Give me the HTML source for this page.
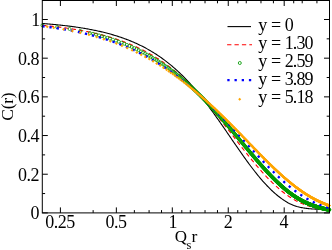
<!DOCTYPE html>
<html><head><meta charset="utf-8"><title>plot</title>
<style>
html,body{margin:0;padding:0;background:#fff;}
body{width:332px;height:250px;position:relative;overflow:hidden;font-family:"Liberation Serif",serif;color:#000;}
svg text{font-kerning:none;} /* fs 18 */
</style></head><body>
<svg width="332" height="250" viewBox="0 0 332 250" style="position:absolute;left:0;top:0">
<defs><clipPath id="c"><rect x="39.80" y="0.50" width="292.20" height="212.90"/></clipPath></defs>
<g fill="none">
<path d="M42.30 23.52 L43.26 23.59 L44.21 23.66 L45.17 23.74 L46.13 23.82 L47.09 23.89 L48.04 23.97 L49.00 24.05 L49.96 24.14 L50.92 24.22 L51.87 24.30 L52.83 24.39 L53.79 24.48 L54.75 24.57 L55.70 24.66 L56.66 24.76 L57.62 24.85 L58.57 24.95 L59.53 25.05 L60.49 25.15 L61.45 25.25 L62.40 25.36 L63.36 25.46 L64.32 25.57 L65.28 25.68 L66.23 25.80 L67.19 25.91 L68.15 26.03 L69.11 26.15 L70.06 26.27 L71.02 26.39 L71.98 26.52 L72.93 26.65 L73.89 26.78 L74.85 26.91 L75.81 27.05 L76.76 27.18 L77.72 27.33 L78.68 27.47 L79.64 27.62 L80.59 27.76 L81.55 27.92 L82.51 28.07 L83.47 28.23 L84.42 28.39 L85.38 28.55 L86.34 28.72 L87.29 28.89 L88.25 29.06 L89.21 29.24 L90.17 29.42 L91.12 29.60 L92.08 29.79 L93.04 29.98 L94.00 30.17 L94.95 30.37 L95.91 30.57 L96.87 30.77 L97.83 30.98 L98.78 31.19 L99.74 31.41 L100.70 31.63 L101.65 31.85 L102.61 32.08 L103.57 32.31 L104.53 32.55 L105.48 32.79 L106.44 33.03 L107.40 33.28 L108.36 33.54 L109.31 33.80 L110.27 34.06 L111.23 34.33 L112.19 34.61 L113.14 34.88 L114.10 35.17 L115.06 35.46 L116.01 35.75 L116.97 36.05 L117.93 36.36 L118.89 36.67 L119.84 36.99 L120.80 37.31 L121.76 37.64 L122.72 37.97 L123.67 38.31 L124.63 38.66 L125.59 39.02 L126.55 39.38 L127.50 39.74 L128.46 40.11 L129.42 40.49 L130.37 40.88 L131.33 41.27 L132.29 41.67 L133.25 42.08 L134.20 42.50 L135.16 42.92 L136.12 43.35 L137.08 43.79 L138.03 44.23 L138.99 44.69 L139.95 45.15 L140.91 45.62 L141.86 46.09 L142.82 46.58 L143.78 47.07 L144.73 47.58 L145.69 48.09 L146.65 48.61 L147.61 49.14 L148.56 49.68 L149.52 50.23 L150.48 50.78 L151.44 51.35 L152.39 51.93 L153.35 52.51 L154.31 53.11 L155.27 53.71 L156.22 54.33 L157.18 54.96 L158.14 55.59 L159.09 56.24 L160.05 56.90 L161.01 57.57 L161.97 58.25 L162.92 58.94 L163.88 59.64 L164.84 60.36 L165.80 61.08 L166.75 61.82 L167.71 62.57 L168.67 63.33 L169.63 64.10 L170.58 64.88 L171.54 65.68 L172.50 66.49 L173.45 67.31 L174.41 68.14 L175.37 68.98 L176.33 69.84 L177.28 70.71 L178.24 71.60 L179.20 72.49 L180.16 73.40 L181.11 74.32 L182.07 75.26 L183.03 76.21 L183.99 77.17 L184.94 78.15 L185.90 79.14 L186.86 80.14 L187.81 81.15 L188.77 82.18 L189.73 83.22 L190.69 84.28 L191.64 85.35 L192.60 86.43 L193.56 87.53 L194.52 88.64 L195.47 89.76 L196.43 90.90 L197.39 92.05 L198.35 93.21 L199.30 94.39 L200.26 95.58 L201.22 96.78 L202.17 97.99 L203.13 99.22 L204.09 100.45 L205.05 101.69 L206.00 102.95 L206.96 104.21 L207.92 105.48 L208.88 106.76 L209.83 108.05 L210.79 109.35 L211.75 110.66 L212.71 111.98 L213.66 113.30 L214.62 114.63 L215.58 115.97 L216.53 117.31 L217.49 118.67 L218.45 120.02 L219.41 121.39 L220.36 122.76 L221.32 124.13 L222.28 125.51 L223.24 126.89 L224.19 128.28 L225.15 129.66 L226.11 131.06 L227.07 132.45 L228.02 133.85 L228.98 135.24 L229.94 136.64 L230.89 138.04 L231.85 139.44 L232.81 140.84 L233.77 142.23 L234.72 143.63 L235.68 145.02 L236.64 146.41 L237.60 147.79 L238.55 149.17 L239.51 150.55 L240.47 151.92 L241.43 153.29 L242.38 154.65 L243.34 156.00 L244.30 157.35 L245.25 158.69 L246.21 160.02 L247.17 161.34 L248.13 162.65 L249.08 163.95 L250.04 165.24 L251.00 166.51 L251.96 167.78 L252.91 169.03 L253.87 170.27 L254.83 171.50 L255.79 172.71 L256.74 173.91 L257.70 175.10 L258.66 176.26 L259.61 177.41 L260.57 178.55 L261.53 179.67 L262.49 180.77 L263.44 181.85 L264.40 182.92 L265.36 183.96 L266.32 184.99 L267.27 186.00 L268.23 186.99 L269.19 187.96 L270.15 188.91 L271.10 189.84 L272.06 190.75 L273.02 191.63 L273.97 192.50 L274.93 193.35 L275.89 194.17 L276.85 194.97 L277.80 195.76 L278.76 196.52 L279.72 197.26 L280.68 197.98 L281.63 198.67 L282.59 199.35 L283.55 200.00 L284.51 200.64 L285.46 201.25 L286.42 201.84 L287.38 202.40 L288.33 202.93 L289.29 203.43 L290.25 203.90 L291.21 204.35 L292.16 204.76 L293.12 205.15 L294.08 205.52 L295.04 205.86 L295.99 206.17 L296.95 206.47 L297.91 206.74 L298.87 206.99 L299.82 207.22 L300.78 207.44 L301.74 207.63 L302.69 207.81 L303.65 207.98 L304.61 208.13 L305.57 208.26 L306.52 208.39 L307.48 208.50 L308.44 208.60 L309.40 208.69 L310.35 208.78 L311.31 208.86 L312.27 208.93 L313.23 209.00 L314.18 209.06 L315.14 209.12 L316.10 209.18 L317.05 209.24 L318.01 209.29 L318.97 209.35 L319.93 209.41 L320.88 209.48 L321.84 209.55 L322.80 209.62 L323.76 209.68 L324.71 209.74 L325.67 209.79 L326.63 209.84 L327.59 209.89 L328.54 209.93 L329.50 209.97" stroke="#000" stroke-width="1.1"/>
<path d="M42.30 25.30 L43.26 25.39 L44.21 25.48 L45.17 25.58 L46.13 25.67 L47.09 25.77 L48.04 25.86 L49.00 25.96 L49.96 26.06 L50.92 26.17 L51.87 26.27 L52.83 26.38 L53.79 26.48 L54.75 26.59 L55.70 26.71 L56.66 26.82 L57.62 26.93 L58.57 27.05 L59.53 27.17 L60.49 27.29 L61.45 27.41 L62.40 27.54 L63.36 27.66 L64.32 27.79 L65.28 27.92 L66.23 28.06 L67.19 28.19 L68.15 28.33 L69.11 28.47 L70.06 28.61 L71.02 28.76 L71.98 28.90 L72.93 29.05 L73.89 29.20 L74.85 29.36 L75.81 29.52 L76.76 29.68 L77.72 29.84 L78.68 30.00 L79.64 30.17 L80.59 30.34 L81.55 30.51 L82.51 30.69 L83.47 30.87 L84.42 31.05 L85.38 31.23 L86.34 31.42 L87.29 31.61 L88.25 31.80 L89.21 32.00 L90.17 32.20 L91.12 32.41 L92.08 32.61 L93.04 32.82 L94.00 33.04 L94.95 33.25 L95.91 33.47 L96.87 33.70 L97.83 33.93 L98.78 34.16 L99.74 34.39 L100.70 34.63 L101.65 34.88 L102.61 35.12 L103.57 35.38 L104.53 35.63 L105.48 35.89 L106.44 36.15 L107.40 36.42 L108.36 36.70 L109.31 36.97 L110.27 37.25 L111.23 37.54 L112.19 37.83 L113.14 38.13 L114.10 38.43 L115.06 38.73 L116.01 39.04 L116.97 39.36 L117.93 39.68 L118.89 40.00 L119.84 40.33 L120.80 40.67 L121.76 41.01 L122.72 41.36 L123.67 41.71 L124.63 42.07 L125.59 42.43 L126.55 42.80 L127.50 43.17 L128.46 43.55 L129.42 43.94 L130.37 44.34 L131.33 44.73 L132.29 45.14 L133.25 45.55 L134.20 45.97 L135.16 46.40 L136.12 46.83 L137.08 47.27 L138.03 47.71 L138.99 48.16 L139.95 48.62 L140.91 49.09 L141.86 49.56 L142.82 50.05 L143.78 50.53 L144.73 51.03 L145.69 51.53 L146.65 52.04 L147.61 52.56 L148.56 53.09 L149.52 53.63 L150.48 54.17 L151.44 54.72 L152.39 55.28 L153.35 55.85 L154.31 56.42 L155.27 57.01 L156.22 57.60 L157.18 58.20 L158.14 58.81 L159.09 59.43 L160.05 60.06 L161.01 60.70 L161.97 61.35 L162.92 62.00 L163.88 62.67 L164.84 63.34 L165.80 64.03 L166.75 64.72 L167.71 65.42 L168.67 66.14 L169.63 66.86 L170.58 67.59 L171.54 68.34 L172.50 69.09 L173.45 69.86 L174.41 70.63 L175.37 71.41 L176.33 72.21 L177.28 73.01 L178.24 73.83 L179.20 74.66 L180.16 75.49 L181.11 76.34 L182.07 77.20 L183.03 78.07 L183.99 78.95 L184.94 79.84 L185.90 80.74 L186.86 81.65 L187.81 82.58 L188.77 83.51 L189.73 84.46 L190.69 85.41 L191.64 86.38 L192.60 87.36 L193.56 88.35 L194.52 89.35 L195.47 90.36 L196.43 91.38 L197.39 92.42 L198.35 93.46 L199.30 94.51 L200.26 95.58 L201.22 96.66 L202.17 97.74 L203.13 98.83 L204.09 99.93 L205.05 101.04 L206.00 102.15 L206.96 103.28 L207.92 104.41 L208.88 105.55 L209.83 106.69 L210.79 107.84 L211.75 109.00 L212.71 110.17 L213.66 111.34 L214.62 112.51 L215.58 113.70 L216.53 114.89 L217.49 116.08 L218.45 117.28 L219.41 118.48 L220.36 119.69 L221.32 120.90 L222.28 122.12 L223.24 123.34 L224.19 124.56 L225.15 125.79 L226.11 127.02 L227.07 128.25 L228.02 129.49 L228.98 130.72 L229.94 131.96 L230.89 133.20 L231.85 134.44 L232.81 135.68 L233.77 136.92 L234.72 138.16 L235.68 139.40 L236.64 140.64 L237.60 141.88 L238.55 143.12 L239.51 144.35 L240.47 145.58 L241.43 146.81 L242.38 148.04 L243.34 149.26 L244.30 150.48 L245.25 151.69 L246.21 152.90 L247.17 154.10 L248.13 155.30 L249.08 156.50 L250.04 157.68 L251.00 158.86 L251.96 160.03 L252.91 161.20 L253.87 162.36 L254.83 163.51 L255.79 164.65 L256.74 165.78 L257.70 166.90 L258.66 168.01 L259.61 169.12 L260.57 170.21 L261.53 171.29 L262.49 172.36 L263.44 173.42 L264.40 174.46 L265.36 175.50 L266.32 176.52 L267.27 177.53 L268.23 178.53 L269.19 179.51 L270.15 180.48 L271.10 181.43 L272.06 182.37 L273.02 183.30 L273.97 184.21 L274.93 185.11 L275.89 185.99 L276.85 186.86 L277.80 187.71 L278.76 188.55 L279.72 189.37 L280.68 190.18 L281.63 190.96 L282.59 191.74 L283.55 192.49 L284.51 193.23 L285.46 193.96 L286.42 194.66 L287.38 195.35 L288.33 196.02 L289.29 196.67 L290.25 197.30 L291.21 197.91 L292.16 198.50 L293.12 199.08 L294.08 199.63 L295.04 200.17 L295.99 200.69 L296.95 201.19 L297.91 201.68 L298.87 202.15 L299.82 202.60 L300.78 203.04 L301.74 203.46 L302.69 203.86 L303.65 204.25 L304.61 204.63 L305.57 204.99 L306.52 205.33 L307.48 205.67 L308.44 205.99 L309.40 206.29 L310.35 206.59 L311.31 206.87 L312.27 207.14 L313.23 207.40 L314.18 207.65 L315.14 207.89 L316.10 208.13 L317.05 208.35 L318.01 208.56 L318.97 208.77 L319.93 208.97 L320.88 209.16 L321.84 209.34 L322.80 209.52 L323.76 209.69 L324.71 209.85 L325.67 210.00 L326.63 210.14 L327.59 210.28 L328.54 210.40 L329.50 210.52" stroke="#f00" stroke-width="1.1" stroke-dasharray="4.3 3.1"/>
<g stroke="#090" stroke-width="0.75" fill="none">
<circle cx="42.39" cy="25.31" r="1.5"/>
<circle cx="57.10" cy="27.09" r="1.5"/>
<circle cx="69.55" cy="28.98" r="1.5"/>
<circle cx="80.33" cy="30.97" r="1.5"/>
<circle cx="89.83" cy="33.05" r="1.5"/>
<circle cx="93.02" cy="33.82" r="1.5"/>
<circle cx="96.09" cy="34.60" r="1.5"/>
<circle cx="99.04" cy="35.38" r="1.5"/>
<circle cx="101.89" cy="36.18" r="1.5"/>
<circle cx="104.64" cy="36.98" r="1.5"/>
<circle cx="107.31" cy="37.79" r="1.5"/>
<circle cx="109.88" cy="38.61" r="1.5"/>
<circle cx="112.97" cy="39.63" r="1.5"/>
<circle cx="115.95" cy="40.67" r="1.5"/>
<circle cx="118.81" cy="41.71" r="1.5"/>
<circle cx="121.58" cy="42.75" r="1.5"/>
<circle cx="124.26" cy="43.81" r="1.5"/>
<circle cx="126.86" cy="44.87" r="1.5"/>
<circle cx="129.37" cy="45.94" r="1.5"/>
<circle cx="131.80" cy="47.01" r="1.5"/>
<circle cx="134.17" cy="48.09" r="1.5"/>
<circle cx="136.47" cy="49.17" r="1.5"/>
<circle cx="138.70" cy="50.26" r="1.5"/>
<circle cx="140.87" cy="51.35" r="1.5"/>
<circle cx="142.99" cy="52.44" r="1.5"/>
<circle cx="145.05" cy="53.54" r="1.5"/>
<circle cx="147.06" cy="54.63" r="1.5"/>
<circle cx="149.02" cy="55.74" r="1.5"/>
<circle cx="150.94" cy="56.84" r="1.5"/>
<circle cx="152.81" cy="57.94" r="1.5"/>
<circle cx="154.64" cy="59.05" r="1.5"/>
<circle cx="156.43" cy="60.15" r="1.5"/>
<circle cx="158.18" cy="61.26" r="1.5"/>
<circle cx="159.89" cy="62.37" r="1.5"/>
<circle cx="161.57" cy="63.47" r="1.5"/>
<circle cx="163.21" cy="64.58" r="1.5"/>
<circle cx="164.82" cy="65.68" r="1.5"/>
<circle cx="166.40" cy="66.79" r="1.5"/>
<circle cx="167.95" cy="67.89" r="1.5"/>
<circle cx="169.47" cy="69.00" r="1.5"/>
<circle cx="170.96" cy="70.10" r="1.5"/>
<circle cx="172.42" cy="71.20" r="1.5"/>
<circle cx="173.49" cy="72.01" r="1.5"/>
<circle cx="174.54" cy="72.82" r="1.5"/>
<circle cx="175.57" cy="73.63" r="1.5"/>
<circle cx="176.60" cy="74.44" r="1.5"/>
<circle cx="177.61" cy="75.24" r="1.5"/>
<circle cx="178.61" cy="76.05" r="1.5"/>
<circle cx="179.60" cy="76.85" r="1.5"/>
<circle cx="180.57" cy="77.66" r="1.5"/>
<circle cx="181.53" cy="78.46" r="1.5"/>
<circle cx="182.49" cy="79.26" r="1.5"/>
<circle cx="183.43" cy="80.05" r="1.5"/>
<circle cx="184.36" cy="80.85" r="1.5"/>
<circle cx="185.28" cy="81.64" r="1.5"/>
<circle cx="186.19" cy="82.44" r="1.5"/>
<circle cx="187.08" cy="83.23" r="1.5"/>
<circle cx="187.97" cy="84.01" r="1.5"/>
<circle cx="188.85" cy="84.80" r="1.5"/>
<circle cx="189.72" cy="85.58" r="1.5"/>
<circle cx="190.58" cy="86.37" r="1.5"/>
<circle cx="191.43" cy="87.15" r="1.5"/>
<circle cx="192.28" cy="87.92" r="1.5"/>
<circle cx="193.11" cy="88.70" r="1.5"/>
<circle cx="193.94" cy="89.47" r="1.5"/>
<circle cx="194.75" cy="90.24" r="1.5"/>
<circle cx="195.56" cy="91.01" r="1.5"/>
<circle cx="196.36" cy="91.78" r="1.5"/>
<circle cx="197.16" cy="92.54" r="1.5"/>
<circle cx="197.94" cy="93.30" r="1.5"/>
<circle cx="198.72" cy="94.06" r="1.5"/>
<circle cx="199.49" cy="94.82" r="1.5"/>
<circle cx="200.25" cy="95.57" r="1.5"/>
<circle cx="201.01" cy="96.32" r="1.5"/>
<circle cx="201.76" cy="97.07" r="1.5"/>
<circle cx="202.50" cy="97.82" r="1.5"/>
<circle cx="203.23" cy="98.56" r="1.5"/>
<circle cx="203.96" cy="99.31" r="1.5"/>
<circle cx="204.68" cy="100.05" r="1.5"/>
<circle cx="205.40" cy="100.78" r="1.5"/>
<circle cx="206.11" cy="101.52" r="1.5"/>
<circle cx="206.81" cy="102.25" r="1.5"/>
<circle cx="207.51" cy="102.98" r="1.5"/>
<circle cx="208.20" cy="103.71" r="1.5"/>
<circle cx="208.88" cy="104.43" r="1.5"/>
<circle cx="209.56" cy="105.15" r="1.5"/>
<circle cx="210.24" cy="105.87" r="1.5"/>
<circle cx="210.91" cy="106.59" r="1.5"/>
<circle cx="211.57" cy="107.30" r="1.5"/>
<circle cx="212.23" cy="108.02" r="1.5"/>
<circle cx="212.88" cy="108.72" r="1.5"/>
<circle cx="213.53" cy="109.43" r="1.5"/>
<circle cx="214.17" cy="110.13" r="1.5"/>
<circle cx="214.80" cy="110.83" r="1.5"/>
<circle cx="215.43" cy="111.53" r="1.5"/>
<circle cx="216.06" cy="112.23" r="1.5"/>
<circle cx="216.68" cy="112.92" r="1.5"/>
<circle cx="217.30" cy="113.61" r="1.5"/>
<circle cx="217.91" cy="114.29" r="1.5"/>
<circle cx="218.52" cy="114.98" r="1.5"/>
<circle cx="219.12" cy="115.66" r="1.5"/>
<circle cx="219.72" cy="116.33" r="1.5"/>
<circle cx="220.32" cy="117.01" r="1.5"/>
<circle cx="220.91" cy="117.68" r="1.5"/>
<circle cx="221.49" cy="118.35" r="1.5"/>
<circle cx="222.07" cy="119.02" r="1.5"/>
<circle cx="222.65" cy="119.68" r="1.5"/>
<circle cx="223.23" cy="120.34" r="1.5"/>
<circle cx="223.79" cy="120.99" r="1.5"/>
<circle cx="224.36" cy="121.65" r="1.5"/>
<circle cx="224.92" cy="122.30" r="1.5"/>
<circle cx="225.48" cy="122.95" r="1.5"/>
<circle cx="226.03" cy="123.59" r="1.5"/>
<circle cx="226.58" cy="124.23" r="1.5"/>
<circle cx="227.13" cy="124.87" r="1.5"/>
<circle cx="227.67" cy="125.51" r="1.5"/>
<circle cx="228.21" cy="126.14" r="1.5"/>
<circle cx="228.74" cy="126.77" r="1.5"/>
<circle cx="229.28" cy="127.40" r="1.5"/>
<circle cx="229.80" cy="128.02" r="1.5"/>
<circle cx="230.33" cy="128.64" r="1.5"/>
<circle cx="230.85" cy="129.26" r="1.5"/>
<circle cx="231.37" cy="129.87" r="1.5"/>
<circle cx="231.88" cy="130.48" r="1.5"/>
<circle cx="232.40" cy="131.09" r="1.5"/>
<circle cx="232.90" cy="131.70" r="1.5"/>
<circle cx="233.41" cy="132.30" r="1.5"/>
<circle cx="233.91" cy="132.90" r="1.5"/>
<circle cx="234.41" cy="133.49" r="1.5"/>
<circle cx="234.91" cy="134.09" r="1.5"/>
<circle cx="235.40" cy="134.68" r="1.5"/>
<circle cx="235.89" cy="135.26" r="1.5"/>
<circle cx="236.38" cy="135.84" r="1.5"/>
<circle cx="236.86" cy="136.42" r="1.5"/>
<circle cx="237.34" cy="137.00" r="1.5"/>
<circle cx="237.82" cy="137.58" r="1.5"/>
<circle cx="238.29" cy="138.15" r="1.5"/>
<circle cx="238.77" cy="138.71" r="1.5"/>
<circle cx="239.24" cy="139.28" r="1.5"/>
<circle cx="239.70" cy="139.84" r="1.5"/>
<circle cx="240.17" cy="140.40" r="1.5"/>
<circle cx="240.63" cy="140.95" r="1.5"/>
<circle cx="241.09" cy="141.51" r="1.5"/>
<circle cx="241.55" cy="142.05" r="1.5"/>
<circle cx="242.00" cy="142.60" r="1.5"/>
<circle cx="242.45" cy="143.14" r="1.5"/>
<circle cx="242.90" cy="143.68" r="1.5"/>
<circle cx="243.35" cy="144.22" r="1.5"/>
<circle cx="243.79" cy="144.75" r="1.5"/>
<circle cx="244.23" cy="145.28" r="1.5"/>
<circle cx="244.67" cy="145.81" r="1.5"/>
<circle cx="245.11" cy="146.33" r="1.5"/>
<circle cx="245.54" cy="146.85" r="1.5"/>
<circle cx="245.97" cy="147.37" r="1.5"/>
<circle cx="246.40" cy="147.89" r="1.5"/>
<circle cx="246.83" cy="148.40" r="1.5"/>
<circle cx="247.26" cy="148.91" r="1.5"/>
<circle cx="247.68" cy="149.41" r="1.5"/>
<circle cx="248.10" cy="149.92" r="1.5"/>
<circle cx="248.52" cy="150.42" r="1.5"/>
<circle cx="248.94" cy="150.91" r="1.5"/>
<circle cx="249.35" cy="151.41" r="1.5"/>
<circle cx="249.76" cy="151.90" r="1.5"/>
<circle cx="250.17" cy="152.38" r="1.5"/>
<circle cx="250.58" cy="152.87" r="1.5"/>
<circle cx="250.99" cy="153.35" r="1.5"/>
<circle cx="251.39" cy="153.83" r="1.5"/>
<circle cx="251.79" cy="154.31" r="1.5"/>
<circle cx="252.19" cy="154.78" r="1.5"/>
<circle cx="252.59" cy="155.25" r="1.5"/>
<circle cx="252.99" cy="155.71" r="1.5"/>
<circle cx="253.38" cy="156.18" r="1.5"/>
<circle cx="253.77" cy="156.64" r="1.5"/>
<circle cx="254.16" cy="157.10" r="1.5"/>
<circle cx="254.55" cy="157.55" r="1.5"/>
<circle cx="254.94" cy="158.00" r="1.5"/>
<circle cx="255.32" cy="158.45" r="1.5"/>
<circle cx="255.71" cy="158.90" r="1.5"/>
<circle cx="256.09" cy="159.34" r="1.5"/>
<circle cx="256.47" cy="159.78" r="1.5"/>
<circle cx="256.84" cy="160.22" r="1.5"/>
<circle cx="257.22" cy="160.65" r="1.5"/>
<circle cx="257.59" cy="161.09" r="1.5"/>
<circle cx="257.97" cy="161.52" r="1.5"/>
<circle cx="258.34" cy="161.94" r="1.5"/>
<circle cx="258.71" cy="162.36" r="1.5"/>
<circle cx="259.07" cy="162.78" r="1.5"/>
<circle cx="259.44" cy="163.20" r="1.5"/>
<circle cx="259.80" cy="163.62" r="1.5"/>
<circle cx="260.16" cy="164.03" r="1.5"/>
<circle cx="260.53" cy="164.44" r="1.5"/>
<circle cx="260.88" cy="164.85" r="1.5"/>
<circle cx="261.24" cy="165.25" r="1.5"/>
<circle cx="261.60" cy="165.65" r="1.5"/>
<circle cx="261.95" cy="166.05" r="1.5"/>
<circle cx="262.30" cy="166.44" r="1.5"/>
<circle cx="262.66" cy="166.84" r="1.5"/>
<circle cx="263.01" cy="167.23" r="1.5"/>
<circle cx="263.35" cy="167.61" r="1.5"/>
<circle cx="263.70" cy="168.00" r="1.5"/>
<circle cx="264.05" cy="168.38" r="1.5"/>
<circle cx="264.39" cy="168.76" r="1.5"/>
<circle cx="264.73" cy="169.14" r="1.5"/>
<circle cx="265.07" cy="169.51" r="1.5"/>
<circle cx="265.41" cy="169.88" r="1.5"/>
<circle cx="265.75" cy="170.25" r="1.5"/>
<circle cx="266.09" cy="170.62" r="1.5"/>
<circle cx="266.42" cy="170.98" r="1.5"/>
<circle cx="266.76" cy="171.34" r="1.5"/>
<circle cx="267.09" cy="171.70" r="1.5"/>
<circle cx="267.42" cy="172.06" r="1.5"/>
<circle cx="267.75" cy="172.41" r="1.5"/>
<circle cx="268.08" cy="172.76" r="1.5"/>
<circle cx="268.40" cy="173.11" r="1.5"/>
<circle cx="268.73" cy="173.45" r="1.5"/>
<circle cx="269.06" cy="173.80" r="1.5"/>
<circle cx="269.38" cy="174.14" r="1.5"/>
<circle cx="269.70" cy="174.48" r="1.5"/>
<circle cx="270.02" cy="174.81" r="1.5"/>
<circle cx="270.34" cy="175.15" r="1.5"/>
<circle cx="270.66" cy="175.48" r="1.5"/>
<circle cx="270.97" cy="175.80" r="1.5"/>
<circle cx="271.29" cy="176.13" r="1.5"/>
<circle cx="271.60" cy="176.45" r="1.5"/>
<circle cx="271.92" cy="176.78" r="1.5"/>
<circle cx="272.23" cy="177.09" r="1.5"/>
<circle cx="272.54" cy="177.41" r="1.5"/>
<circle cx="272.85" cy="177.73" r="1.5"/>
<circle cx="273.16" cy="178.04" r="1.5"/>
<circle cx="273.47" cy="178.35" r="1.5"/>
<circle cx="273.77" cy="178.65" r="1.5"/>
<circle cx="274.08" cy="178.96" r="1.5"/>
<circle cx="274.38" cy="179.26" r="1.5"/>
<circle cx="274.68" cy="179.56" r="1.5"/>
<circle cx="274.98" cy="179.86" r="1.5"/>
<circle cx="275.28" cy="180.15" r="1.5"/>
<circle cx="275.58" cy="180.45" r="1.5"/>
<circle cx="275.88" cy="180.74" r="1.5"/>
<circle cx="276.18" cy="181.03" r="1.5"/>
<circle cx="276.47" cy="181.32" r="1.5"/>
<circle cx="276.77" cy="181.60" r="1.5"/>
<circle cx="277.06" cy="181.88" r="1.5"/>
<circle cx="277.36" cy="182.16" r="1.5"/>
<circle cx="277.65" cy="182.44" r="1.5"/>
<circle cx="277.94" cy="182.72" r="1.5"/>
<circle cx="278.23" cy="182.99" r="1.5"/>
<circle cx="278.52" cy="183.26" r="1.5"/>
<circle cx="278.80" cy="183.53" r="1.5"/>
<circle cx="279.09" cy="183.80" r="1.5"/>
<circle cx="279.37" cy="184.06" r="1.5"/>
<circle cx="279.66" cy="184.33" r="1.5"/>
<circle cx="279.94" cy="184.59" r="1.5"/>
<circle cx="280.23" cy="184.85" r="1.5"/>
<circle cx="280.51" cy="185.10" r="1.5"/>
<circle cx="280.79" cy="185.36" r="1.5"/>
<circle cx="281.07" cy="185.61" r="1.5"/>
<circle cx="281.35" cy="185.86" r="1.5"/>
<circle cx="281.62" cy="186.11" r="1.5"/>
<circle cx="281.90" cy="186.36" r="1.5"/>
<circle cx="282.18" cy="186.60" r="1.5"/>
<circle cx="282.45" cy="186.85" r="1.5"/>
<circle cx="282.72" cy="187.09" r="1.5"/>
<circle cx="283.00" cy="187.33" r="1.5"/>
<circle cx="283.27" cy="187.56" r="1.5"/>
<circle cx="283.54" cy="187.80" r="1.5"/>
<circle cx="283.81" cy="188.03" r="1.5"/>
<circle cx="284.08" cy="188.26" r="1.5"/>
<circle cx="284.35" cy="188.49" r="1.5"/>
<circle cx="284.61" cy="188.72" r="1.5"/>
<circle cx="284.88" cy="188.95" r="1.5"/>
<circle cx="285.15" cy="189.17" r="1.5"/>
<circle cx="285.41" cy="189.39" r="1.5"/>
<circle cx="285.68" cy="189.61" r="1.5"/>
<circle cx="285.94" cy="189.83" r="1.5"/>
<circle cx="286.20" cy="190.05" r="1.5"/>
<circle cx="286.46" cy="190.26" r="1.5"/>
<circle cx="286.72" cy="190.48" r="1.5"/>
<circle cx="286.98" cy="190.69" r="1.5"/>
<circle cx="287.24" cy="190.90" r="1.5"/>
<circle cx="287.50" cy="191.10" r="1.5"/>
<circle cx="287.76" cy="191.31" r="1.5"/>
<circle cx="288.01" cy="191.51" r="1.5"/>
<circle cx="288.27" cy="191.71" r="1.5"/>
<circle cx="288.52" cy="191.91" r="1.5"/>
<circle cx="288.78" cy="192.11" r="1.5"/>
<circle cx="289.03" cy="192.30" r="1.5"/>
<circle cx="289.28" cy="192.50" r="1.5"/>
<circle cx="289.53" cy="192.69" r="1.5"/>
<circle cx="289.79" cy="192.88" r="1.5"/>
<circle cx="290.04" cy="193.07" r="1.5"/>
<circle cx="290.29" cy="193.25" r="1.5"/>
<circle cx="290.53" cy="193.44" r="1.5"/>
<circle cx="290.78" cy="193.62" r="1.5"/>
<circle cx="291.03" cy="193.80" r="1.5"/>
<circle cx="291.27" cy="193.98" r="1.5"/>
<circle cx="291.52" cy="194.16" r="1.5"/>
<circle cx="291.76" cy="194.34" r="1.5"/>
<circle cx="292.01" cy="194.51" r="1.5"/>
<circle cx="292.25" cy="194.68" r="1.5"/>
<circle cx="292.49" cy="194.85" r="1.5"/>
<circle cx="292.74" cy="195.02" r="1.5"/>
<circle cx="292.98" cy="195.19" r="1.5"/>
<circle cx="293.22" cy="195.36" r="1.5"/>
<circle cx="293.46" cy="195.52" r="1.5"/>
<circle cx="293.70" cy="195.68" r="1.5"/>
<circle cx="293.93" cy="195.85" r="1.5"/>
<circle cx="294.17" cy="196.01" r="1.5"/>
<circle cx="294.41" cy="196.16" r="1.5"/>
<circle cx="294.65" cy="196.32" r="1.5"/>
<circle cx="294.88" cy="196.48" r="1.5"/>
<circle cx="295.12" cy="196.63" r="1.5"/>
<circle cx="295.35" cy="196.78" r="1.5"/>
<circle cx="295.58" cy="196.93" r="1.5"/>
<circle cx="295.82" cy="197.08" r="1.5"/>
<circle cx="296.05" cy="197.23" r="1.5"/>
<circle cx="296.28" cy="197.38" r="1.5"/>
<circle cx="296.51" cy="197.52" r="1.5"/>
<circle cx="296.74" cy="197.67" r="1.5"/>
<circle cx="296.97" cy="197.81" r="1.5"/>
<circle cx="297.20" cy="197.95" r="1.5"/>
<circle cx="297.43" cy="198.09" r="1.5"/>
<circle cx="297.65" cy="198.23" r="1.5"/>
<circle cx="297.88" cy="198.36" r="1.5"/>
<circle cx="298.11" cy="198.50" r="1.5"/>
<circle cx="298.33" cy="198.63" r="1.5"/>
<circle cx="298.56" cy="198.77" r="1.5"/>
<circle cx="298.78" cy="198.90" r="1.5"/>
<circle cx="299.01" cy="199.03" r="1.5"/>
<circle cx="299.23" cy="199.16" r="1.5"/>
<circle cx="299.45" cy="199.29" r="1.5"/>
<circle cx="299.67" cy="199.41" r="1.5"/>
<circle cx="299.89" cy="199.54" r="1.5"/>
<circle cx="300.12" cy="199.66" r="1.5"/>
<circle cx="300.34" cy="199.79" r="1.5"/>
<circle cx="300.55" cy="199.91" r="1.5"/>
<circle cx="300.77" cy="200.03" r="1.5"/>
<circle cx="300.99" cy="200.15" r="1.5"/>
<circle cx="301.21" cy="200.27" r="1.5"/>
<circle cx="301.43" cy="200.39" r="1.5"/>
<circle cx="301.64" cy="200.50" r="1.5"/>
<circle cx="301.86" cy="200.62" r="1.5"/>
<circle cx="302.07" cy="200.73" r="1.5"/>
<circle cx="302.29" cy="200.84" r="1.5"/>
<circle cx="302.50" cy="200.96" r="1.5"/>
<circle cx="302.72" cy="201.07" r="1.5"/>
<circle cx="302.93" cy="201.18" r="1.5"/>
<circle cx="303.14" cy="201.28" r="1.5"/>
<circle cx="303.35" cy="201.39" r="1.5"/>
<circle cx="303.57" cy="201.50" r="1.5"/>
<circle cx="303.78" cy="201.60" r="1.5"/>
<circle cx="303.99" cy="201.71" r="1.5"/>
<circle cx="304.20" cy="201.81" r="1.5"/>
<circle cx="304.41" cy="201.91" r="1.5"/>
<circle cx="304.62" cy="202.01" r="1.5"/>
<circle cx="304.82" cy="202.11" r="1.5"/>
<circle cx="305.03" cy="202.21" r="1.5"/>
<circle cx="305.24" cy="202.31" r="1.5"/>
<circle cx="305.44" cy="202.41" r="1.5"/>
<circle cx="305.65" cy="202.51" r="1.5"/>
<circle cx="305.86" cy="202.60" r="1.5"/>
<circle cx="306.06" cy="202.70" r="1.5"/>
<circle cx="306.27" cy="202.79" r="1.5"/>
<circle cx="306.47" cy="202.88" r="1.5"/>
<circle cx="306.67" cy="202.98" r="1.5"/>
<circle cx="306.88" cy="203.07" r="1.5"/>
<circle cx="307.08" cy="203.16" r="1.5"/>
<circle cx="307.28" cy="203.25" r="1.5"/>
<circle cx="307.48" cy="203.34" r="1.5"/>
<circle cx="307.68" cy="203.42" r="1.5"/>
<circle cx="307.88" cy="203.51" r="1.5"/>
<circle cx="308.08" cy="203.60" r="1.5"/>
<circle cx="308.28" cy="203.68" r="1.5"/>
<circle cx="308.48" cy="203.76" r="1.5"/>
<circle cx="308.68" cy="203.85" r="1.5"/>
<circle cx="308.88" cy="203.93" r="1.5"/>
<circle cx="309.07" cy="204.01" r="1.5"/>
<circle cx="309.27" cy="204.09" r="1.5"/>
<circle cx="309.47" cy="204.17" r="1.5"/>
<circle cx="309.66" cy="204.25" r="1.5"/>
<circle cx="309.86" cy="204.33" r="1.5"/>
<circle cx="310.05" cy="204.41" r="1.5"/>
<circle cx="310.25" cy="204.49" r="1.5"/>
<circle cx="310.44" cy="204.57" r="1.5"/>
<circle cx="310.64" cy="204.64" r="1.5"/>
<circle cx="310.83" cy="204.72" r="1.5"/>
<circle cx="311.02" cy="204.79" r="1.5"/>
<circle cx="311.22" cy="204.86" r="1.5"/>
<circle cx="311.41" cy="204.94" r="1.5"/>
<circle cx="311.60" cy="205.01" r="1.5"/>
<circle cx="311.79" cy="205.08" r="1.5"/>
<circle cx="311.98" cy="205.15" r="1.5"/>
<circle cx="312.17" cy="205.22" r="1.5"/>
<circle cx="312.36" cy="205.29" r="1.5"/>
<circle cx="312.55" cy="205.36" r="1.5"/>
<circle cx="312.74" cy="205.43" r="1.5"/>
<circle cx="312.93" cy="205.50" r="1.5"/>
<circle cx="313.11" cy="205.56" r="1.5"/>
<circle cx="313.30" cy="205.63" r="1.5"/>
<circle cx="313.49" cy="205.70" r="1.5"/>
<circle cx="313.67" cy="205.76" r="1.5"/>
<circle cx="313.86" cy="205.83" r="1.5"/>
<circle cx="314.05" cy="205.89" r="1.5"/>
<circle cx="314.23" cy="205.95" r="1.5"/>
<circle cx="314.42" cy="206.02" r="1.5"/>
<circle cx="314.60" cy="206.08" r="1.5"/>
<circle cx="314.78" cy="206.14" r="1.5"/>
<circle cx="314.97" cy="206.20" r="1.5"/>
<circle cx="315.15" cy="206.26" r="1.5"/>
<circle cx="315.33" cy="206.32" r="1.5"/>
<circle cx="315.52" cy="206.38" r="1.5"/>
<circle cx="315.70" cy="206.44" r="1.5"/>
<circle cx="315.88" cy="206.50" r="1.5"/>
<circle cx="316.06" cy="206.56" r="1.5"/>
<circle cx="316.24" cy="206.61" r="1.5"/>
<circle cx="316.42" cy="206.67" r="1.5"/>
<circle cx="316.60" cy="206.73" r="1.5"/>
<circle cx="316.78" cy="206.78" r="1.5"/>
<circle cx="316.96" cy="206.84" r="1.5"/>
<circle cx="317.14" cy="206.89" r="1.5"/>
<circle cx="317.32" cy="206.95" r="1.5"/>
<circle cx="317.49" cy="207.00" r="1.5"/>
<circle cx="317.67" cy="207.06" r="1.5"/>
<circle cx="317.85" cy="207.11" r="1.5"/>
<circle cx="318.03" cy="207.16" r="1.5"/>
<circle cx="318.20" cy="207.21" r="1.5"/>
<circle cx="318.38" cy="207.26" r="1.5"/>
<circle cx="318.55" cy="207.32" r="1.5"/>
<circle cx="318.73" cy="207.37" r="1.5"/>
<circle cx="318.90" cy="207.42" r="1.5"/>
<circle cx="319.08" cy="207.47" r="1.5"/>
<circle cx="319.25" cy="207.52" r="1.5"/>
<circle cx="319.43" cy="207.56" r="1.5"/>
<circle cx="319.60" cy="207.61" r="1.5"/>
<circle cx="319.77" cy="207.66" r="1.5"/>
<circle cx="319.94" cy="207.71" r="1.5"/>
<circle cx="320.12" cy="207.76" r="1.5"/>
<circle cx="320.29" cy="207.80" r="1.5"/>
<circle cx="320.46" cy="207.85" r="1.5"/>
<circle cx="320.63" cy="207.90" r="1.5"/>
<circle cx="320.80" cy="207.94" r="1.5"/>
<circle cx="320.97" cy="207.99" r="1.5"/>
<circle cx="321.14" cy="208.03" r="1.5"/>
<circle cx="321.31" cy="208.08" r="1.5"/>
<circle cx="321.48" cy="208.12" r="1.5"/>
<circle cx="321.65" cy="208.16" r="1.5"/>
<circle cx="321.82" cy="208.21" r="1.5"/>
<circle cx="321.99" cy="208.25" r="1.5"/>
<circle cx="322.15" cy="208.29" r="1.5"/>
<circle cx="322.32" cy="208.34" r="1.5"/>
<circle cx="322.49" cy="208.38" r="1.5"/>
<circle cx="322.66" cy="208.42" r="1.5"/>
<circle cx="322.82" cy="208.46" r="1.5"/>
<circle cx="322.99" cy="208.50" r="1.5"/>
<circle cx="323.15" cy="208.54" r="1.5"/>
<circle cx="323.32" cy="208.58" r="1.5"/>
<circle cx="323.49" cy="208.62" r="1.5"/>
<circle cx="323.65" cy="208.66" r="1.5"/>
<circle cx="323.81" cy="208.70" r="1.5"/>
<circle cx="323.98" cy="208.74" r="1.5"/>
<circle cx="324.14" cy="208.77" r="1.5"/>
<circle cx="324.31" cy="208.81" r="1.5"/>
<circle cx="324.47" cy="208.85" r="1.5"/>
<circle cx="324.63" cy="208.89" r="1.5"/>
<circle cx="324.79" cy="208.92" r="1.5"/>
<circle cx="324.96" cy="208.96" r="1.5"/>
<circle cx="325.12" cy="208.99" r="1.5"/>
<circle cx="325.28" cy="209.03" r="1.5"/>
<circle cx="325.44" cy="209.06" r="1.5"/>
<circle cx="325.60" cy="209.10" r="1.5"/>
<circle cx="325.76" cy="209.13" r="1.5"/>
<circle cx="325.92" cy="209.16" r="1.5"/>
<circle cx="326.08" cy="209.20" r="1.5"/>
<circle cx="326.24" cy="209.23" r="1.5"/>
<circle cx="326.40" cy="209.26" r="1.5"/>
<circle cx="326.56" cy="209.30" r="1.5"/>
<circle cx="326.72" cy="209.33" r="1.5"/>
<circle cx="326.88" cy="209.36" r="1.5"/>
<circle cx="327.04" cy="209.39" r="1.5"/>
<circle cx="327.19" cy="209.42" r="1.5"/>
<circle cx="327.35" cy="209.45" r="1.5"/>
<circle cx="327.51" cy="209.48" r="1.5"/>
<circle cx="327.66" cy="209.51" r="1.5"/>
<circle cx="327.82" cy="209.54" r="1.5"/>
<circle cx="327.98" cy="209.57" r="1.5"/>
<circle cx="328.13" cy="209.60" r="1.5"/>
<circle cx="328.29" cy="209.63" r="1.5"/>
<circle cx="328.44" cy="209.66" r="1.5"/>
<circle cx="328.60" cy="209.69" r="1.5"/>
<circle cx="328.75" cy="209.71" r="1.5"/>
<circle cx="328.91" cy="209.74" r="1.5"/>
<circle cx="329.06" cy="209.77" r="1.5"/>
<circle cx="329.22" cy="209.79" r="1.5"/>
<circle cx="329.37" cy="209.82" r="1.5"/>
</g>
<path d="M42.30 26.26 L43.26 26.38 L44.21 26.50 L45.17 26.62 L46.13 26.74 L47.09 26.86 L48.04 26.98 L49.00 27.11 L49.96 27.24 L50.92 27.37 L51.87 27.50 L52.83 27.64 L53.79 27.77 L54.75 27.91 L55.70 28.05 L56.66 28.20 L57.62 28.34 L58.57 28.49 L59.53 28.64 L60.49 28.79 L61.45 28.95 L62.40 29.10 L63.36 29.26 L64.32 29.42 L65.28 29.59 L66.23 29.75 L67.19 29.92 L68.15 30.10 L69.11 30.27 L70.06 30.45 L71.02 30.63 L71.98 30.81 L72.93 31.00 L73.89 31.18 L74.85 31.37 L75.81 31.57 L76.76 31.76 L77.72 31.96 L78.68 32.17 L79.64 32.37 L80.59 32.58 L81.55 32.79 L82.51 33.01 L83.47 33.22 L84.42 33.44 L85.38 33.67 L86.34 33.90 L87.29 34.13 L88.25 34.36 L89.21 34.60 L90.17 34.84 L91.12 35.08 L92.08 35.33 L93.04 35.58 L94.00 35.84 L94.95 36.09 L95.91 36.36 L96.87 36.62 L97.83 36.89 L98.78 37.16 L99.74 37.44 L100.70 37.72 L101.65 38.01 L102.61 38.30 L103.57 38.59 L104.53 38.89 L105.48 39.19 L106.44 39.49 L107.40 39.80 L108.36 40.12 L109.31 40.43 L110.27 40.76 L111.23 41.08 L112.19 41.41 L113.14 41.75 L114.10 42.09 L115.06 42.43 L116.01 42.78 L116.97 43.13 L117.93 43.49 L118.89 43.85 L119.84 44.22 L120.80 44.59 L121.76 44.97 L122.72 45.35 L123.67 45.74 L124.63 46.13 L125.59 46.53 L126.55 46.93 L127.50 47.34 L128.46 47.75 L129.42 48.17 L130.37 48.59 L131.33 49.02 L132.29 49.45 L133.25 49.89 L134.20 50.33 L135.16 50.78 L136.12 51.24 L137.08 51.70 L138.03 52.16 L138.99 52.64 L139.95 53.11 L140.91 53.60 L141.86 54.08 L142.82 54.58 L143.78 55.08 L144.73 55.58 L145.69 56.10 L146.65 56.61 L147.61 57.14 L148.56 57.67 L149.52 58.20 L150.48 58.74 L151.44 59.29 L152.39 59.84 L153.35 60.40 L154.31 60.97 L155.27 61.54 L156.22 62.12 L157.18 62.70 L158.14 63.29 L159.09 63.89 L160.05 64.49 L161.01 65.10 L161.97 65.72 L162.92 66.34 L163.88 66.97 L164.84 67.61 L165.80 68.25 L166.75 68.90 L167.71 69.55 L168.67 70.21 L169.63 70.88 L170.58 71.55 L171.54 72.23 L172.50 72.92 L173.45 73.61 L174.41 74.31 L175.37 75.02 L176.33 75.73 L177.28 76.45 L178.24 77.17 L179.20 77.90 L180.16 78.64 L181.11 79.39 L182.07 80.14 L183.03 80.89 L183.99 81.66 L184.94 82.43 L185.90 83.20 L186.86 83.99 L187.81 84.78 L188.77 85.57 L189.73 86.37 L190.69 87.18 L191.64 87.99 L192.60 88.81 L193.56 89.64 L194.52 90.47 L195.47 91.31 L196.43 92.15 L197.39 93.00 L198.35 93.86 L199.30 94.72 L200.26 95.58 L201.22 96.46 L202.17 97.34 L203.13 98.22 L204.09 99.11 L205.05 100.01 L206.00 100.91 L206.96 101.82 L207.92 102.74 L208.88 103.66 L209.83 104.59 L210.79 105.52 L211.75 106.46 L212.71 107.41 L213.66 108.36 L214.62 109.32 L215.58 110.28 L216.53 111.24 L217.49 112.22 L218.45 113.19 L219.41 114.17 L220.36 115.16 L221.32 116.15 L222.28 117.15 L223.24 118.15 L224.19 119.15 L225.15 120.16 L226.11 121.17 L227.07 122.19 L228.02 123.21 L228.98 124.23 L229.94 125.26 L230.89 126.29 L231.85 127.32 L232.81 128.36 L233.77 129.40 L234.72 130.44 L235.68 131.48 L236.64 132.53 L237.60 133.57 L238.55 134.62 L239.51 135.67 L240.47 136.72 L241.43 137.78 L242.38 138.83 L243.34 139.88 L244.30 140.94 L245.25 141.99 L246.21 143.05 L247.17 144.10 L248.13 145.16 L249.08 146.21 L250.04 147.26 L251.00 148.31 L251.96 149.36 L252.91 150.41 L253.87 151.46 L254.83 152.50 L255.79 153.54 L256.74 154.58 L257.70 155.61 L258.66 156.64 L259.61 157.67 L260.57 158.70 L261.53 159.72 L262.49 160.73 L263.44 161.74 L264.40 162.75 L265.36 163.75 L266.32 164.75 L267.27 165.74 L268.23 166.72 L269.19 167.70 L270.15 168.67 L271.10 169.63 L272.06 170.59 L273.02 171.54 L273.97 172.48 L274.93 173.41 L275.89 174.34 L276.85 175.26 L277.80 176.17 L278.76 177.07 L279.72 177.96 L280.68 178.84 L281.63 179.71 L282.59 180.57 L283.55 181.43 L284.51 182.27 L285.46 183.10 L286.42 183.92 L287.38 184.73 L288.33 185.53 L289.29 186.32 L290.25 187.09 L291.21 187.86 L292.16 188.61 L293.12 189.35 L294.08 190.08 L295.04 190.80 L295.99 191.50 L296.95 192.19 L297.91 192.87 L298.87 193.54 L299.82 194.20 L300.78 194.84 L301.74 195.47 L302.69 196.08 L303.65 196.68 L304.61 197.27 L305.57 197.85 L306.52 198.41 L307.48 198.96 L308.44 199.50 L309.40 200.02 L310.35 200.53 L311.31 201.03 L312.27 201.52 L313.23 201.99 L314.18 202.45 L315.14 202.89 L316.10 203.32 L317.05 203.74 L318.01 204.15 L318.97 204.55 L319.93 204.93 L320.88 205.30 L321.84 205.66 L322.80 206.01 L323.76 206.34 L324.71 206.66 L325.67 206.98 L326.63 207.28 L327.59 207.57 L328.54 207.85 L329.50 208.11" stroke="#00f" stroke-width="2.3" stroke-dasharray="2.3 4.9"/>
<g fill="#ffa500" stroke="none">
<path d="M47.24 25.28l1.5 1.5l-1.5 1.5l-1.5 -1.5z"/>
<path d="M53.67 26.20l1.5 1.5l-1.5 1.5l-1.5 -1.5z"/>
<path d="M63.57 27.82l1.5 1.5l-1.5 1.5l-1.5 -1.5z"/>
<path d="M72.38 29.49l1.5 1.5l-1.5 1.5l-1.5 -1.5z"/>
<path d="M80.33 31.21l1.5 1.5l-1.5 1.5l-1.5 -1.5z"/>
<path d="M88.93 33.32l1.5 1.5l-1.5 1.5l-1.5 -1.5z"/>
<path d="M96.71 35.48l1.5 1.5l-1.5 1.5l-1.5 -1.5z"/>
<path d="M103.80 37.66l1.5 1.5l-1.5 1.5l-1.5 -1.5z"/>
<path d="M110.32 39.86l1.5 1.5l-1.5 1.5l-1.5 -1.5z"/>
<path d="M116.35 42.08l1.5 1.5l-1.5 1.5l-1.5 -1.5z"/>
<path d="M121.96 44.31l1.5 1.5l-1.5 1.5l-1.5 -1.5z"/>
<path d="M127.21 46.54l1.5 1.5l-1.5 1.5l-1.5 -1.5z"/>
<path d="M132.14 48.77l1.5 1.5l-1.5 1.5l-1.5 -1.5z"/>
<path d="M136.78 50.99l1.5 1.5l-1.5 1.5l-1.5 -1.5z"/>
<path d="M141.17 53.21l1.5 1.5l-1.5 1.5l-1.5 -1.5z"/>
<path d="M145.33 55.41l1.5 1.5l-1.5 1.5l-1.5 -1.5z"/>
<path d="M149.29 57.60l1.5 1.5l-1.5 1.5l-1.5 -1.5z"/>
<path d="M153.07 59.78l1.5 1.5l-1.5 1.5l-1.5 -1.5z"/>
<path d="M156.67 61.94l1.5 1.5l-1.5 1.5l-1.5 -1.5z"/>
<path d="M160.13 64.08l1.5 1.5l-1.5 1.5l-1.5 -1.5z"/>
<path d="M163.44 66.20l1.5 1.5l-1.5 1.5l-1.5 -1.5z"/>
<path d="M166.62 68.30l1.5 1.5l-1.5 1.5l-1.5 -1.5z"/>
<path d="M168.75 69.75l1.5 1.5l-1.5 1.5l-1.5 -1.5z"/>
<path d="M170.83 71.18l1.5 1.5l-1.5 1.5l-1.5 -1.5z"/>
<path d="M172.86 72.60l1.5 1.5l-1.5 1.5l-1.5 -1.5z"/>
<path d="M174.84 74.02l1.5 1.5l-1.5 1.5l-1.5 -1.5z"/>
<path d="M176.77 75.42l1.5 1.5l-1.5 1.5l-1.5 -1.5z"/>
<path d="M178.66 76.80l1.5 1.5l-1.5 1.5l-1.5 -1.5z"/>
<path d="M180.51 78.18l1.5 1.5l-1.5 1.5l-1.5 -1.5z"/>
<path d="M182.31 79.54l1.5 1.5l-1.5 1.5l-1.5 -1.5z"/>
<path d="M184.07 80.90l1.5 1.5l-1.5 1.5l-1.5 -1.5z"/>
<path d="M185.80 82.24l1.5 1.5l-1.5 1.5l-1.5 -1.5z"/>
<path d="M187.49 83.57l1.5 1.5l-1.5 1.5l-1.5 -1.5z"/>
<path d="M188.48 84.36l1.5 1.5l-1.5 1.5l-1.5 -1.5z"/>
<path d="M189.47 85.14l1.5 1.5l-1.5 1.5l-1.5 -1.5z"/>
<path d="M190.44 85.92l1.5 1.5l-1.5 1.5l-1.5 -1.5z"/>
<path d="M191.40 86.70l1.5 1.5l-1.5 1.5l-1.5 -1.5z"/>
<path d="M192.35 87.48l1.5 1.5l-1.5 1.5l-1.5 -1.5z"/>
<path d="M193.29 88.24l1.5 1.5l-1.5 1.5l-1.5 -1.5z"/>
<path d="M194.22 89.01l1.5 1.5l-1.5 1.5l-1.5 -1.5z"/>
<path d="M195.14 89.77l1.5 1.5l-1.5 1.5l-1.5 -1.5z"/>
<path d="M196.04 90.52l1.5 1.5l-1.5 1.5l-1.5 -1.5z"/>
<path d="M196.94 91.27l1.5 1.5l-1.5 1.5l-1.5 -1.5z"/>
<path d="M197.83 92.02l1.5 1.5l-1.5 1.5l-1.5 -1.5z"/>
<path d="M198.71 92.76l1.5 1.5l-1.5 1.5l-1.5 -1.5z"/>
<path d="M199.57 93.50l1.5 1.5l-1.5 1.5l-1.5 -1.5z"/>
<path d="M200.43 94.23l1.5 1.5l-1.5 1.5l-1.5 -1.5z"/>
<path d="M201.28 94.96l1.5 1.5l-1.5 1.5l-1.5 -1.5z"/>
<path d="M202.12 95.69l1.5 1.5l-1.5 1.5l-1.5 -1.5z"/>
<path d="M202.96 96.41l1.5 1.5l-1.5 1.5l-1.5 -1.5z"/>
<path d="M203.78 97.13l1.5 1.5l-1.5 1.5l-1.5 -1.5z"/>
<path d="M204.60 97.85l1.5 1.5l-1.5 1.5l-1.5 -1.5z"/>
<path d="M205.40 98.56l1.5 1.5l-1.5 1.5l-1.5 -1.5z"/>
<path d="M206.20 99.27l1.5 1.5l-1.5 1.5l-1.5 -1.5z"/>
<path d="M207.00 99.98l1.5 1.5l-1.5 1.5l-1.5 -1.5z"/>
<path d="M207.78 100.68l1.5 1.5l-1.5 1.5l-1.5 -1.5z"/>
<path d="M208.56 101.38l1.5 1.5l-1.5 1.5l-1.5 -1.5z"/>
<path d="M209.32 102.08l1.5 1.5l-1.5 1.5l-1.5 -1.5z"/>
<path d="M210.09 102.77l1.5 1.5l-1.5 1.5l-1.5 -1.5z"/>
<path d="M210.84 103.46l1.5 1.5l-1.5 1.5l-1.5 -1.5z"/>
<path d="M211.59 104.15l1.5 1.5l-1.5 1.5l-1.5 -1.5z"/>
<path d="M212.33 104.83l1.5 1.5l-1.5 1.5l-1.5 -1.5z"/>
<path d="M213.06 105.51l1.5 1.5l-1.5 1.5l-1.5 -1.5z"/>
<path d="M213.79 106.19l1.5 1.5l-1.5 1.5l-1.5 -1.5z"/>
<path d="M214.51 106.87l1.5 1.5l-1.5 1.5l-1.5 -1.5z"/>
<path d="M215.23 107.54l1.5 1.5l-1.5 1.5l-1.5 -1.5z"/>
<path d="M215.93 108.20l1.5 1.5l-1.5 1.5l-1.5 -1.5z"/>
<path d="M216.64 108.87l1.5 1.5l-1.5 1.5l-1.5 -1.5z"/>
<path d="M217.33 109.53l1.5 1.5l-1.5 1.5l-1.5 -1.5z"/>
<path d="M218.02 110.19l1.5 1.5l-1.5 1.5l-1.5 -1.5z"/>
<path d="M218.71 110.84l1.5 1.5l-1.5 1.5l-1.5 -1.5z"/>
<path d="M219.39 111.49l1.5 1.5l-1.5 1.5l-1.5 -1.5z"/>
<path d="M220.06 112.14l1.5 1.5l-1.5 1.5l-1.5 -1.5z"/>
<path d="M220.73 112.79l1.5 1.5l-1.5 1.5l-1.5 -1.5z"/>
<path d="M221.39 113.43l1.5 1.5l-1.5 1.5l-1.5 -1.5z"/>
<path d="M222.04 114.07l1.5 1.5l-1.5 1.5l-1.5 -1.5z"/>
<path d="M222.70 114.70l1.5 1.5l-1.5 1.5l-1.5 -1.5z"/>
<path d="M223.34 115.33l1.5 1.5l-1.5 1.5l-1.5 -1.5z"/>
<path d="M223.98 115.96l1.5 1.5l-1.5 1.5l-1.5 -1.5z"/>
<path d="M224.62 116.59l1.5 1.5l-1.5 1.5l-1.5 -1.5z"/>
<path d="M225.25 117.21l1.5 1.5l-1.5 1.5l-1.5 -1.5z"/>
<path d="M225.87 117.83l1.5 1.5l-1.5 1.5l-1.5 -1.5z"/>
<path d="M226.50 118.44l1.5 1.5l-1.5 1.5l-1.5 -1.5z"/>
<path d="M227.11 119.05l1.5 1.5l-1.5 1.5l-1.5 -1.5z"/>
<path d="M227.72 119.66l1.5 1.5l-1.5 1.5l-1.5 -1.5z"/>
<path d="M228.33 120.27l1.5 1.5l-1.5 1.5l-1.5 -1.5z"/>
<path d="M228.93 120.87l1.5 1.5l-1.5 1.5l-1.5 -1.5z"/>
<path d="M229.53 121.47l1.5 1.5l-1.5 1.5l-1.5 -1.5z"/>
<path d="M230.12 122.07l1.5 1.5l-1.5 1.5l-1.5 -1.5z"/>
<path d="M230.71 122.66l1.5 1.5l-1.5 1.5l-1.5 -1.5z"/>
<path d="M231.30 123.25l1.5 1.5l-1.5 1.5l-1.5 -1.5z"/>
<path d="M231.88 123.84l1.5 1.5l-1.5 1.5l-1.5 -1.5z"/>
<path d="M232.46 124.42l1.5 1.5l-1.5 1.5l-1.5 -1.5z"/>
<path d="M233.03 125.00l1.5 1.5l-1.5 1.5l-1.5 -1.5z"/>
<path d="M233.60 125.58l1.5 1.5l-1.5 1.5l-1.5 -1.5z"/>
<path d="M234.16 126.15l1.5 1.5l-1.5 1.5l-1.5 -1.5z"/>
<path d="M234.72 126.72l1.5 1.5l-1.5 1.5l-1.5 -1.5z"/>
<path d="M235.28 127.29l1.5 1.5l-1.5 1.5l-1.5 -1.5z"/>
<path d="M235.83 127.86l1.5 1.5l-1.5 1.5l-1.5 -1.5z"/>
<path d="M236.38 128.42l1.5 1.5l-1.5 1.5l-1.5 -1.5z"/>
<path d="M236.93 128.97l1.5 1.5l-1.5 1.5l-1.5 -1.5z"/>
<path d="M237.47 129.53l1.5 1.5l-1.5 1.5l-1.5 -1.5z"/>
<path d="M238.01 130.08l1.5 1.5l-1.5 1.5l-1.5 -1.5z"/>
<path d="M238.54 130.63l1.5 1.5l-1.5 1.5l-1.5 -1.5z"/>
<path d="M239.07 131.18l1.5 1.5l-1.5 1.5l-1.5 -1.5z"/>
<path d="M239.60 131.72l1.5 1.5l-1.5 1.5l-1.5 -1.5z"/>
<path d="M240.13 132.26l1.5 1.5l-1.5 1.5l-1.5 -1.5z"/>
<path d="M240.65 132.80l1.5 1.5l-1.5 1.5l-1.5 -1.5z"/>
<path d="M241.16 133.33l1.5 1.5l-1.5 1.5l-1.5 -1.5z"/>
<path d="M241.68 133.86l1.5 1.5l-1.5 1.5l-1.5 -1.5z"/>
<path d="M242.19 134.39l1.5 1.5l-1.5 1.5l-1.5 -1.5z"/>
<path d="M242.70 134.91l1.5 1.5l-1.5 1.5l-1.5 -1.5z"/>
<path d="M243.20 135.44l1.5 1.5l-1.5 1.5l-1.5 -1.5z"/>
<path d="M243.70 135.95l1.5 1.5l-1.5 1.5l-1.5 -1.5z"/>
<path d="M244.20 136.47l1.5 1.5l-1.5 1.5l-1.5 -1.5z"/>
<path d="M244.70 136.98l1.5 1.5l-1.5 1.5l-1.5 -1.5z"/>
<path d="M245.19 137.49l1.5 1.5l-1.5 1.5l-1.5 -1.5z"/>
<path d="M245.68 138.00l1.5 1.5l-1.5 1.5l-1.5 -1.5z"/>
<path d="M246.16 138.50l1.5 1.5l-1.5 1.5l-1.5 -1.5z"/>
<path d="M246.65 139.01l1.5 1.5l-1.5 1.5l-1.5 -1.5z"/>
<path d="M247.13 139.50l1.5 1.5l-1.5 1.5l-1.5 -1.5z"/>
<path d="M247.61 140.00l1.5 1.5l-1.5 1.5l-1.5 -1.5z"/>
<path d="M248.08 140.49l1.5 1.5l-1.5 1.5l-1.5 -1.5z"/>
<path d="M248.55 140.98l1.5 1.5l-1.5 1.5l-1.5 -1.5z"/>
<path d="M249.02 141.47l1.5 1.5l-1.5 1.5l-1.5 -1.5z"/>
<path d="M249.49 141.95l1.5 1.5l-1.5 1.5l-1.5 -1.5z"/>
<path d="M249.95 142.43l1.5 1.5l-1.5 1.5l-1.5 -1.5z"/>
<path d="M250.42 142.91l1.5 1.5l-1.5 1.5l-1.5 -1.5z"/>
<path d="M250.87 143.38l1.5 1.5l-1.5 1.5l-1.5 -1.5z"/>
<path d="M251.33 143.86l1.5 1.5l-1.5 1.5l-1.5 -1.5z"/>
<path d="M251.78 144.33l1.5 1.5l-1.5 1.5l-1.5 -1.5z"/>
<path d="M252.23 144.79l1.5 1.5l-1.5 1.5l-1.5 -1.5z"/>
<path d="M252.68 145.26l1.5 1.5l-1.5 1.5l-1.5 -1.5z"/>
<path d="M253.13 145.72l1.5 1.5l-1.5 1.5l-1.5 -1.5z"/>
<path d="M253.57 146.18l1.5 1.5l-1.5 1.5l-1.5 -1.5z"/>
<path d="M254.01 146.63l1.5 1.5l-1.5 1.5l-1.5 -1.5z"/>
<path d="M254.45 147.08l1.5 1.5l-1.5 1.5l-1.5 -1.5z"/>
<path d="M254.89 147.53l1.5 1.5l-1.5 1.5l-1.5 -1.5z"/>
<path d="M255.32 147.98l1.5 1.5l-1.5 1.5l-1.5 -1.5z"/>
<path d="M255.75 148.43l1.5 1.5l-1.5 1.5l-1.5 -1.5z"/>
<path d="M256.18 148.87l1.5 1.5l-1.5 1.5l-1.5 -1.5z"/>
<path d="M256.61 149.31l1.5 1.5l-1.5 1.5l-1.5 -1.5z"/>
<path d="M257.04 149.74l1.5 1.5l-1.5 1.5l-1.5 -1.5z"/>
<path d="M257.46 150.18l1.5 1.5l-1.5 1.5l-1.5 -1.5z"/>
<path d="M257.88 150.61l1.5 1.5l-1.5 1.5l-1.5 -1.5z"/>
<path d="M258.30 151.04l1.5 1.5l-1.5 1.5l-1.5 -1.5z"/>
<path d="M258.71 151.46l1.5 1.5l-1.5 1.5l-1.5 -1.5z"/>
<path d="M259.13 151.89l1.5 1.5l-1.5 1.5l-1.5 -1.5z"/>
<path d="M259.54 152.31l1.5 1.5l-1.5 1.5l-1.5 -1.5z"/>
<path d="M259.95 152.73l1.5 1.5l-1.5 1.5l-1.5 -1.5z"/>
<path d="M260.36 153.14l1.5 1.5l-1.5 1.5l-1.5 -1.5z"/>
<path d="M260.76 153.55l1.5 1.5l-1.5 1.5l-1.5 -1.5z"/>
<path d="M261.17 153.96l1.5 1.5l-1.5 1.5l-1.5 -1.5z"/>
<path d="M261.57 154.37l1.5 1.5l-1.5 1.5l-1.5 -1.5z"/>
<path d="M261.97 154.78l1.5 1.5l-1.5 1.5l-1.5 -1.5z"/>
<path d="M262.37 155.18l1.5 1.5l-1.5 1.5l-1.5 -1.5z"/>
<path d="M262.76 155.58l1.5 1.5l-1.5 1.5l-1.5 -1.5z"/>
<path d="M263.16 155.98l1.5 1.5l-1.5 1.5l-1.5 -1.5z"/>
<path d="M263.55 156.37l1.5 1.5l-1.5 1.5l-1.5 -1.5z"/>
<path d="M263.94 156.77l1.5 1.5l-1.5 1.5l-1.5 -1.5z"/>
<path d="M264.33 157.16l1.5 1.5l-1.5 1.5l-1.5 -1.5z"/>
<path d="M264.71 157.54l1.5 1.5l-1.5 1.5l-1.5 -1.5z"/>
<path d="M265.10 157.93l1.5 1.5l-1.5 1.5l-1.5 -1.5z"/>
<path d="M265.48 158.31l1.5 1.5l-1.5 1.5l-1.5 -1.5z"/>
<path d="M265.86 158.69l1.5 1.5l-1.5 1.5l-1.5 -1.5z"/>
<path d="M266.24 159.07l1.5 1.5l-1.5 1.5l-1.5 -1.5z"/>
<path d="M266.62 159.45l1.5 1.5l-1.5 1.5l-1.5 -1.5z"/>
<path d="M266.99 159.82l1.5 1.5l-1.5 1.5l-1.5 -1.5z"/>
<path d="M267.37 160.19l1.5 1.5l-1.5 1.5l-1.5 -1.5z"/>
<path d="M267.74 160.56l1.5 1.5l-1.5 1.5l-1.5 -1.5z"/>
<path d="M268.11 160.92l1.5 1.5l-1.5 1.5l-1.5 -1.5z"/>
<path d="M268.48 161.29l1.5 1.5l-1.5 1.5l-1.5 -1.5z"/>
<path d="M268.84 161.65l1.5 1.5l-1.5 1.5l-1.5 -1.5z"/>
<path d="M269.21 162.01l1.5 1.5l-1.5 1.5l-1.5 -1.5z"/>
<path d="M269.57 162.37l1.5 1.5l-1.5 1.5l-1.5 -1.5z"/>
<path d="M269.93 162.72l1.5 1.5l-1.5 1.5l-1.5 -1.5z"/>
<path d="M270.29 163.07l1.5 1.5l-1.5 1.5l-1.5 -1.5z"/>
<path d="M270.65 163.42l1.5 1.5l-1.5 1.5l-1.5 -1.5z"/>
<path d="M271.01 163.77l1.5 1.5l-1.5 1.5l-1.5 -1.5z"/>
<path d="M271.37 164.12l1.5 1.5l-1.5 1.5l-1.5 -1.5z"/>
<path d="M271.72 164.46l1.5 1.5l-1.5 1.5l-1.5 -1.5z"/>
<path d="M272.07 164.80l1.5 1.5l-1.5 1.5l-1.5 -1.5z"/>
<path d="M272.42 165.14l1.5 1.5l-1.5 1.5l-1.5 -1.5z"/>
<path d="M272.77 165.48l1.5 1.5l-1.5 1.5l-1.5 -1.5z"/>
<path d="M273.12 165.81l1.5 1.5l-1.5 1.5l-1.5 -1.5z"/>
<path d="M273.47 166.14l1.5 1.5l-1.5 1.5l-1.5 -1.5z"/>
<path d="M273.81 166.47l1.5 1.5l-1.5 1.5l-1.5 -1.5z"/>
<path d="M274.16 166.80l1.5 1.5l-1.5 1.5l-1.5 -1.5z"/>
<path d="M274.50 167.13l1.5 1.5l-1.5 1.5l-1.5 -1.5z"/>
<path d="M274.84 167.45l1.5 1.5l-1.5 1.5l-1.5 -1.5z"/>
<path d="M275.18 167.77l1.5 1.5l-1.5 1.5l-1.5 -1.5z"/>
<path d="M275.52 168.09l1.5 1.5l-1.5 1.5l-1.5 -1.5z"/>
<path d="M275.85 168.41l1.5 1.5l-1.5 1.5l-1.5 -1.5z"/>
<path d="M276.19 168.72l1.5 1.5l-1.5 1.5l-1.5 -1.5z"/>
<path d="M276.52 169.04l1.5 1.5l-1.5 1.5l-1.5 -1.5z"/>
<path d="M276.85 169.35l1.5 1.5l-1.5 1.5l-1.5 -1.5z"/>
<path d="M277.18 169.66l1.5 1.5l-1.5 1.5l-1.5 -1.5z"/>
<path d="M277.51 169.96l1.5 1.5l-1.5 1.5l-1.5 -1.5z"/>
<path d="M277.84 170.27l1.5 1.5l-1.5 1.5l-1.5 -1.5z"/>
<path d="M278.17 170.57l1.5 1.5l-1.5 1.5l-1.5 -1.5z"/>
<path d="M278.49 170.87l1.5 1.5l-1.5 1.5l-1.5 -1.5z"/>
<path d="M278.82 171.17l1.5 1.5l-1.5 1.5l-1.5 -1.5z"/>
<path d="M279.14 171.47l1.5 1.5l-1.5 1.5l-1.5 -1.5z"/>
<path d="M279.46 171.76l1.5 1.5l-1.5 1.5l-1.5 -1.5z"/>
<path d="M279.78 172.05l1.5 1.5l-1.5 1.5l-1.5 -1.5z"/>
<path d="M280.10 172.34l1.5 1.5l-1.5 1.5l-1.5 -1.5z"/>
<path d="M280.42 172.63l1.5 1.5l-1.5 1.5l-1.5 -1.5z"/>
<path d="M280.74 172.92l1.5 1.5l-1.5 1.5l-1.5 -1.5z"/>
<path d="M281.05 173.21l1.5 1.5l-1.5 1.5l-1.5 -1.5z"/>
<path d="M281.37 173.49l1.5 1.5l-1.5 1.5l-1.5 -1.5z"/>
<path d="M281.68 173.77l1.5 1.5l-1.5 1.5l-1.5 -1.5z"/>
<path d="M281.99 174.05l1.5 1.5l-1.5 1.5l-1.5 -1.5z"/>
<path d="M282.30 174.33l1.5 1.5l-1.5 1.5l-1.5 -1.5z"/>
<path d="M282.61 174.60l1.5 1.5l-1.5 1.5l-1.5 -1.5z"/>
<path d="M282.92 174.88l1.5 1.5l-1.5 1.5l-1.5 -1.5z"/>
<path d="M283.23 175.15l1.5 1.5l-1.5 1.5l-1.5 -1.5z"/>
<path d="M283.53 175.42l1.5 1.5l-1.5 1.5l-1.5 -1.5z"/>
<path d="M283.84 175.69l1.5 1.5l-1.5 1.5l-1.5 -1.5z"/>
<path d="M284.14 175.95l1.5 1.5l-1.5 1.5l-1.5 -1.5z"/>
<path d="M284.44 176.22l1.5 1.5l-1.5 1.5l-1.5 -1.5z"/>
<path d="M284.74 176.48l1.5 1.5l-1.5 1.5l-1.5 -1.5z"/>
<path d="M285.04 176.74l1.5 1.5l-1.5 1.5l-1.5 -1.5z"/>
<path d="M285.34 177.00l1.5 1.5l-1.5 1.5l-1.5 -1.5z"/>
<path d="M285.64 177.26l1.5 1.5l-1.5 1.5l-1.5 -1.5z"/>
<path d="M285.94 177.51l1.5 1.5l-1.5 1.5l-1.5 -1.5z"/>
<path d="M286.23 177.77l1.5 1.5l-1.5 1.5l-1.5 -1.5z"/>
<path d="M286.53 178.02l1.5 1.5l-1.5 1.5l-1.5 -1.5z"/>
<path d="M286.82 178.27l1.5 1.5l-1.5 1.5l-1.5 -1.5z"/>
<path d="M287.11 178.52l1.5 1.5l-1.5 1.5l-1.5 -1.5z"/>
<path d="M287.40 178.76l1.5 1.5l-1.5 1.5l-1.5 -1.5z"/>
<path d="M287.70 179.01l1.5 1.5l-1.5 1.5l-1.5 -1.5z"/>
<path d="M287.98 179.25l1.5 1.5l-1.5 1.5l-1.5 -1.5z"/>
<path d="M288.27 179.50l1.5 1.5l-1.5 1.5l-1.5 -1.5z"/>
<path d="M288.56 179.74l1.5 1.5l-1.5 1.5l-1.5 -1.5z"/>
<path d="M288.85 179.97l1.5 1.5l-1.5 1.5l-1.5 -1.5z"/>
<path d="M289.13 180.21l1.5 1.5l-1.5 1.5l-1.5 -1.5z"/>
<path d="M289.42 180.45l1.5 1.5l-1.5 1.5l-1.5 -1.5z"/>
<path d="M289.70 180.68l1.5 1.5l-1.5 1.5l-1.5 -1.5z"/>
<path d="M289.98 180.91l1.5 1.5l-1.5 1.5l-1.5 -1.5z"/>
<path d="M290.26 181.14l1.5 1.5l-1.5 1.5l-1.5 -1.5z"/>
<path d="M290.54 181.37l1.5 1.5l-1.5 1.5l-1.5 -1.5z"/>
<path d="M290.82 181.60l1.5 1.5l-1.5 1.5l-1.5 -1.5z"/>
<path d="M291.10 181.82l1.5 1.5l-1.5 1.5l-1.5 -1.5z"/>
<path d="M291.38 182.05l1.5 1.5l-1.5 1.5l-1.5 -1.5z"/>
<path d="M291.65 182.27l1.5 1.5l-1.5 1.5l-1.5 -1.5z"/>
<path d="M291.93 182.49l1.5 1.5l-1.5 1.5l-1.5 -1.5z"/>
<path d="M292.20 182.71l1.5 1.5l-1.5 1.5l-1.5 -1.5z"/>
<path d="M292.48 182.93l1.5 1.5l-1.5 1.5l-1.5 -1.5z"/>
<path d="M292.75 183.15l1.5 1.5l-1.5 1.5l-1.5 -1.5z"/>
<path d="M293.02 183.36l1.5 1.5l-1.5 1.5l-1.5 -1.5z"/>
<path d="M293.29 183.57l1.5 1.5l-1.5 1.5l-1.5 -1.5z"/>
<path d="M293.56 183.79l1.5 1.5l-1.5 1.5l-1.5 -1.5z"/>
<path d="M293.83 184.00l1.5 1.5l-1.5 1.5l-1.5 -1.5z"/>
<path d="M294.10 184.20l1.5 1.5l-1.5 1.5l-1.5 -1.5z"/>
<path d="M294.37 184.41l1.5 1.5l-1.5 1.5l-1.5 -1.5z"/>
<path d="M294.63 184.62l1.5 1.5l-1.5 1.5l-1.5 -1.5z"/>
<path d="M294.90 184.82l1.5 1.5l-1.5 1.5l-1.5 -1.5z"/>
<path d="M295.16 185.03l1.5 1.5l-1.5 1.5l-1.5 -1.5z"/>
<path d="M295.43 185.23l1.5 1.5l-1.5 1.5l-1.5 -1.5z"/>
<path d="M295.69 185.43l1.5 1.5l-1.5 1.5l-1.5 -1.5z"/>
<path d="M295.95 185.63l1.5 1.5l-1.5 1.5l-1.5 -1.5z"/>
<path d="M296.22 185.82l1.5 1.5l-1.5 1.5l-1.5 -1.5z"/>
<path d="M296.48 186.02l1.5 1.5l-1.5 1.5l-1.5 -1.5z"/>
<path d="M296.74 186.21l1.5 1.5l-1.5 1.5l-1.5 -1.5z"/>
<path d="M296.99 186.41l1.5 1.5l-1.5 1.5l-1.5 -1.5z"/>
<path d="M297.25 186.60l1.5 1.5l-1.5 1.5l-1.5 -1.5z"/>
<path d="M297.51 186.79l1.5 1.5l-1.5 1.5l-1.5 -1.5z"/>
<path d="M297.77 186.98l1.5 1.5l-1.5 1.5l-1.5 -1.5z"/>
<path d="M298.02 187.17l1.5 1.5l-1.5 1.5l-1.5 -1.5z"/>
<path d="M298.28 187.35l1.5 1.5l-1.5 1.5l-1.5 -1.5z"/>
<path d="M298.53 187.54l1.5 1.5l-1.5 1.5l-1.5 -1.5z"/>
<path d="M298.78 187.72l1.5 1.5l-1.5 1.5l-1.5 -1.5z"/>
<path d="M299.03 187.90l1.5 1.5l-1.5 1.5l-1.5 -1.5z"/>
<path d="M299.29 188.08l1.5 1.5l-1.5 1.5l-1.5 -1.5z"/>
<path d="M299.54 188.26l1.5 1.5l-1.5 1.5l-1.5 -1.5z"/>
<path d="M299.79 188.44l1.5 1.5l-1.5 1.5l-1.5 -1.5z"/>
<path d="M300.04 188.62l1.5 1.5l-1.5 1.5l-1.5 -1.5z"/>
<path d="M300.28 188.80l1.5 1.5l-1.5 1.5l-1.5 -1.5z"/>
<path d="M300.53 188.97l1.5 1.5l-1.5 1.5l-1.5 -1.5z"/>
<path d="M300.78 189.14l1.5 1.5l-1.5 1.5l-1.5 -1.5z"/>
<path d="M301.02 189.32l1.5 1.5l-1.5 1.5l-1.5 -1.5z"/>
<path d="M301.27 189.49l1.5 1.5l-1.5 1.5l-1.5 -1.5z"/>
<path d="M301.51 189.66l1.5 1.5l-1.5 1.5l-1.5 -1.5z"/>
<path d="M301.76 189.83l1.5 1.5l-1.5 1.5l-1.5 -1.5z"/>
<path d="M302.00 189.99l1.5 1.5l-1.5 1.5l-1.5 -1.5z"/>
<path d="M302.24 190.16l1.5 1.5l-1.5 1.5l-1.5 -1.5z"/>
<path d="M302.49 190.32l1.5 1.5l-1.5 1.5l-1.5 -1.5z"/>
<path d="M302.73 190.49l1.5 1.5l-1.5 1.5l-1.5 -1.5z"/>
<path d="M302.97 190.65l1.5 1.5l-1.5 1.5l-1.5 -1.5z"/>
<path d="M303.21 190.81l1.5 1.5l-1.5 1.5l-1.5 -1.5z"/>
<path d="M303.45 190.97l1.5 1.5l-1.5 1.5l-1.5 -1.5z"/>
<path d="M303.68 191.13l1.5 1.5l-1.5 1.5l-1.5 -1.5z"/>
<path d="M303.92 191.29l1.5 1.5l-1.5 1.5l-1.5 -1.5z"/>
<path d="M304.16 191.44l1.5 1.5l-1.5 1.5l-1.5 -1.5z"/>
<path d="M304.39 191.60l1.5 1.5l-1.5 1.5l-1.5 -1.5z"/>
<path d="M304.63 191.75l1.5 1.5l-1.5 1.5l-1.5 -1.5z"/>
<path d="M304.86 191.91l1.5 1.5l-1.5 1.5l-1.5 -1.5z"/>
<path d="M305.10 192.06l1.5 1.5l-1.5 1.5l-1.5 -1.5z"/>
<path d="M305.33 192.21l1.5 1.5l-1.5 1.5l-1.5 -1.5z"/>
<path d="M305.56 192.36l1.5 1.5l-1.5 1.5l-1.5 -1.5z"/>
<path d="M305.80 192.51l1.5 1.5l-1.5 1.5l-1.5 -1.5z"/>
<path d="M306.03 192.66l1.5 1.5l-1.5 1.5l-1.5 -1.5z"/>
<path d="M306.26 192.80l1.5 1.5l-1.5 1.5l-1.5 -1.5z"/>
<path d="M306.49 192.95l1.5 1.5l-1.5 1.5l-1.5 -1.5z"/>
<path d="M306.72 193.09l1.5 1.5l-1.5 1.5l-1.5 -1.5z"/>
<path d="M306.95 193.24l1.5 1.5l-1.5 1.5l-1.5 -1.5z"/>
<path d="M307.17 193.38l1.5 1.5l-1.5 1.5l-1.5 -1.5z"/>
<path d="M307.40 193.52l1.5 1.5l-1.5 1.5l-1.5 -1.5z"/>
<path d="M307.63 193.66l1.5 1.5l-1.5 1.5l-1.5 -1.5z"/>
<path d="M307.85 193.80l1.5 1.5l-1.5 1.5l-1.5 -1.5z"/>
<path d="M308.08 193.94l1.5 1.5l-1.5 1.5l-1.5 -1.5z"/>
<path d="M308.30 194.08l1.5 1.5l-1.5 1.5l-1.5 -1.5z"/>
<path d="M308.53 194.21l1.5 1.5l-1.5 1.5l-1.5 -1.5z"/>
<path d="M308.75 194.35l1.5 1.5l-1.5 1.5l-1.5 -1.5z"/>
<path d="M308.98 194.48l1.5 1.5l-1.5 1.5l-1.5 -1.5z"/>
<path d="M309.20 194.62l1.5 1.5l-1.5 1.5l-1.5 -1.5z"/>
<path d="M309.42 194.75l1.5 1.5l-1.5 1.5l-1.5 -1.5z"/>
<path d="M309.64 194.88l1.5 1.5l-1.5 1.5l-1.5 -1.5z"/>
<path d="M309.86 195.01l1.5 1.5l-1.5 1.5l-1.5 -1.5z"/>
<path d="M310.08 195.14l1.5 1.5l-1.5 1.5l-1.5 -1.5z"/>
<path d="M310.30 195.27l1.5 1.5l-1.5 1.5l-1.5 -1.5z"/>
<path d="M310.52 195.39l1.5 1.5l-1.5 1.5l-1.5 -1.5z"/>
<path d="M310.74 195.52l1.5 1.5l-1.5 1.5l-1.5 -1.5z"/>
<path d="M310.96 195.65l1.5 1.5l-1.5 1.5l-1.5 -1.5z"/>
<path d="M311.17 195.77l1.5 1.5l-1.5 1.5l-1.5 -1.5z"/>
<path d="M311.39 195.89l1.5 1.5l-1.5 1.5l-1.5 -1.5z"/>
<path d="M311.60 196.02l1.5 1.5l-1.5 1.5l-1.5 -1.5z"/>
<path d="M311.82 196.14l1.5 1.5l-1.5 1.5l-1.5 -1.5z"/>
<path d="M312.03 196.26l1.5 1.5l-1.5 1.5l-1.5 -1.5z"/>
<path d="M312.25 196.38l1.5 1.5l-1.5 1.5l-1.5 -1.5z"/>
<path d="M312.46 196.50l1.5 1.5l-1.5 1.5l-1.5 -1.5z"/>
<path d="M312.67 196.62l1.5 1.5l-1.5 1.5l-1.5 -1.5z"/>
<path d="M312.89 196.73l1.5 1.5l-1.5 1.5l-1.5 -1.5z"/>
<path d="M313.10 196.85l1.5 1.5l-1.5 1.5l-1.5 -1.5z"/>
<path d="M313.31 196.97l1.5 1.5l-1.5 1.5l-1.5 -1.5z"/>
<path d="M313.52 197.08l1.5 1.5l-1.5 1.5l-1.5 -1.5z"/>
<path d="M313.73 197.20l1.5 1.5l-1.5 1.5l-1.5 -1.5z"/>
<path d="M313.94 197.31l1.5 1.5l-1.5 1.5l-1.5 -1.5z"/>
<path d="M314.15 197.42l1.5 1.5l-1.5 1.5l-1.5 -1.5z"/>
<path d="M314.36 197.53l1.5 1.5l-1.5 1.5l-1.5 -1.5z"/>
<path d="M314.57 197.64l1.5 1.5l-1.5 1.5l-1.5 -1.5z"/>
<path d="M314.77 197.75l1.5 1.5l-1.5 1.5l-1.5 -1.5z"/>
<path d="M314.98 197.86l1.5 1.5l-1.5 1.5l-1.5 -1.5z"/>
<path d="M315.19 197.97l1.5 1.5l-1.5 1.5l-1.5 -1.5z"/>
<path d="M315.39 198.08l1.5 1.5l-1.5 1.5l-1.5 -1.5z"/>
<path d="M315.60 198.18l1.5 1.5l-1.5 1.5l-1.5 -1.5z"/>
<path d="M315.80 198.29l1.5 1.5l-1.5 1.5l-1.5 -1.5z"/>
<path d="M316.01 198.39l1.5 1.5l-1.5 1.5l-1.5 -1.5z"/>
<path d="M316.21 198.50l1.5 1.5l-1.5 1.5l-1.5 -1.5z"/>
<path d="M316.42 198.60l1.5 1.5l-1.5 1.5l-1.5 -1.5z"/>
<path d="M316.62 198.70l1.5 1.5l-1.5 1.5l-1.5 -1.5z"/>
<path d="M316.82 198.80l1.5 1.5l-1.5 1.5l-1.5 -1.5z"/>
<path d="M317.02 198.91l1.5 1.5l-1.5 1.5l-1.5 -1.5z"/>
<path d="M317.22 199.01l1.5 1.5l-1.5 1.5l-1.5 -1.5z"/>
<path d="M317.42 199.10l1.5 1.5l-1.5 1.5l-1.5 -1.5z"/>
<path d="M317.63 199.20l1.5 1.5l-1.5 1.5l-1.5 -1.5z"/>
<path d="M317.83 199.30l1.5 1.5l-1.5 1.5l-1.5 -1.5z"/>
<path d="M318.02 199.40l1.5 1.5l-1.5 1.5l-1.5 -1.5z"/>
<path d="M318.22 199.49l1.5 1.5l-1.5 1.5l-1.5 -1.5z"/>
<path d="M318.42 199.59l1.5 1.5l-1.5 1.5l-1.5 -1.5z"/>
<path d="M318.62 199.69l1.5 1.5l-1.5 1.5l-1.5 -1.5z"/>
<path d="M318.82 199.78l1.5 1.5l-1.5 1.5l-1.5 -1.5z"/>
<path d="M319.01 199.87l1.5 1.5l-1.5 1.5l-1.5 -1.5z"/>
<path d="M319.21 199.97l1.5 1.5l-1.5 1.5l-1.5 -1.5z"/>
<path d="M319.41 200.06l1.5 1.5l-1.5 1.5l-1.5 -1.5z"/>
<path d="M319.60 200.15l1.5 1.5l-1.5 1.5l-1.5 -1.5z"/>
<path d="M319.80 200.24l1.5 1.5l-1.5 1.5l-1.5 -1.5z"/>
<path d="M319.99 200.33l1.5 1.5l-1.5 1.5l-1.5 -1.5z"/>
<path d="M320.18 200.42l1.5 1.5l-1.5 1.5l-1.5 -1.5z"/>
<path d="M320.38 200.51l1.5 1.5l-1.5 1.5l-1.5 -1.5z"/>
<path d="M320.57 200.60l1.5 1.5l-1.5 1.5l-1.5 -1.5z"/>
<path d="M320.76 200.68l1.5 1.5l-1.5 1.5l-1.5 -1.5z"/>
<path d="M320.96 200.77l1.5 1.5l-1.5 1.5l-1.5 -1.5z"/>
<path d="M321.15 200.86l1.5 1.5l-1.5 1.5l-1.5 -1.5z"/>
<path d="M321.34 200.94l1.5 1.5l-1.5 1.5l-1.5 -1.5z"/>
<path d="M321.53 201.03l1.5 1.5l-1.5 1.5l-1.5 -1.5z"/>
<path d="M321.72 201.11l1.5 1.5l-1.5 1.5l-1.5 -1.5z"/>
<path d="M321.91 201.19l1.5 1.5l-1.5 1.5l-1.5 -1.5z"/>
<path d="M322.10 201.28l1.5 1.5l-1.5 1.5l-1.5 -1.5z"/>
<path d="M322.29 201.36l1.5 1.5l-1.5 1.5l-1.5 -1.5z"/>
<path d="M322.48 201.44l1.5 1.5l-1.5 1.5l-1.5 -1.5z"/>
<path d="M322.67 201.52l1.5 1.5l-1.5 1.5l-1.5 -1.5z"/>
<path d="M322.85 201.60l1.5 1.5l-1.5 1.5l-1.5 -1.5z"/>
<path d="M323.04 201.68l1.5 1.5l-1.5 1.5l-1.5 -1.5z"/>
<path d="M323.23 201.76l1.5 1.5l-1.5 1.5l-1.5 -1.5z"/>
<path d="M323.41 201.84l1.5 1.5l-1.5 1.5l-1.5 -1.5z"/>
<path d="M323.60 201.91l1.5 1.5l-1.5 1.5l-1.5 -1.5z"/>
<path d="M323.79 201.99l1.5 1.5l-1.5 1.5l-1.5 -1.5z"/>
<path d="M323.97 202.07l1.5 1.5l-1.5 1.5l-1.5 -1.5z"/>
<path d="M324.16 202.14l1.5 1.5l-1.5 1.5l-1.5 -1.5z"/>
<path d="M324.34 202.22l1.5 1.5l-1.5 1.5l-1.5 -1.5z"/>
<path d="M324.52 202.29l1.5 1.5l-1.5 1.5l-1.5 -1.5z"/>
<path d="M324.71 202.37l1.5 1.5l-1.5 1.5l-1.5 -1.5z"/>
<path d="M324.89 202.44l1.5 1.5l-1.5 1.5l-1.5 -1.5z"/>
<path d="M325.07 202.51l1.5 1.5l-1.5 1.5l-1.5 -1.5z"/>
<path d="M325.26 202.59l1.5 1.5l-1.5 1.5l-1.5 -1.5z"/>
<path d="M325.44 202.66l1.5 1.5l-1.5 1.5l-1.5 -1.5z"/>
<path d="M325.62 202.73l1.5 1.5l-1.5 1.5l-1.5 -1.5z"/>
<path d="M325.80 202.80l1.5 1.5l-1.5 1.5l-1.5 -1.5z"/>
<path d="M325.98 202.87l1.5 1.5l-1.5 1.5l-1.5 -1.5z"/>
<path d="M326.16 202.94l1.5 1.5l-1.5 1.5l-1.5 -1.5z"/>
<path d="M326.34 203.01l1.5 1.5l-1.5 1.5l-1.5 -1.5z"/>
<path d="M326.52 203.08l1.5 1.5l-1.5 1.5l-1.5 -1.5z"/>
<path d="M326.70 203.15l1.5 1.5l-1.5 1.5l-1.5 -1.5z"/>
<path d="M326.88 203.21l1.5 1.5l-1.5 1.5l-1.5 -1.5z"/>
<path d="M327.06 203.28l1.5 1.5l-1.5 1.5l-1.5 -1.5z"/>
<path d="M327.23 203.35l1.5 1.5l-1.5 1.5l-1.5 -1.5z"/>
<path d="M327.41 203.41l1.5 1.5l-1.5 1.5l-1.5 -1.5z"/>
<path d="M327.59 203.48l1.5 1.5l-1.5 1.5l-1.5 -1.5z"/>
<path d="M327.76 203.54l1.5 1.5l-1.5 1.5l-1.5 -1.5z"/>
<path d="M327.94 203.61l1.5 1.5l-1.5 1.5l-1.5 -1.5z"/>
<path d="M328.12 203.67l1.5 1.5l-1.5 1.5l-1.5 -1.5z"/>
<path d="M328.29 203.74l1.5 1.5l-1.5 1.5l-1.5 -1.5z"/>
<path d="M328.47 203.80l1.5 1.5l-1.5 1.5l-1.5 -1.5z"/>
<path d="M328.64 203.86l1.5 1.5l-1.5 1.5l-1.5 -1.5z"/>
<path d="M328.82 203.92l1.5 1.5l-1.5 1.5l-1.5 -1.5z"/>
<path d="M328.99 203.99l1.5 1.5l-1.5 1.5l-1.5 -1.5z"/>
<path d="M329.16 204.05l1.5 1.5l-1.5 1.5l-1.5 -1.5z"/>
<path d="M329.34 204.11l1.5 1.5l-1.5 1.5l-1.5 -1.5z"/>
</g>
</g>
<g stroke="#000" stroke-width="1" fill="none">
<rect x="42.30" y="0.50" width="287.20" height="212.40"/>
<path d="M60.40 212.90v-5.50 M60.40 0.50v5.50 M116.35 212.90v-5.50 M116.35 0.50v5.50 M172.30 212.90v-5.50 M172.30 0.50v5.50 M228.25 212.90v-5.50 M228.25 0.50v5.50 M284.20 212.90v-5.50 M284.20 0.50v5.50 M93.13 212.90v-2.80 M93.13 0.50v2.80 M134.36 212.90v-2.80 M134.36 0.50v2.80 M149.08 212.90v-2.80 M149.08 0.50v2.80 M161.52 212.90v-2.80 M161.52 0.50v2.80 M181.81 212.90v-2.80 M181.81 0.50v2.80 M190.31 212.90v-2.80 M190.31 0.50v2.80 M205.03 212.90v-2.80 M205.03 0.50v2.80 M217.47 212.90v-2.80 M217.47 0.50v2.80 M237.76 212.90v-2.80 M237.76 0.50v2.80 M246.26 212.90v-2.80 M246.26 0.50v2.80 M260.98 212.90v-2.80 M260.98 0.50v2.80 M273.42 212.90v-2.80 M273.42 0.50v2.80 M293.71 212.90v-2.80 M293.71 0.50v2.80 M302.21 212.90v-2.80 M302.21 0.50v2.80 M316.93 212.90v-2.80 M316.93 0.50v2.80 M42.30 212.90h5.50 M329.50 212.90h-5.50 M42.30 193.56h2.80 M329.50 193.56h-2.80 M42.30 174.22h5.50 M329.50 174.22h-5.50 M42.30 154.88h2.80 M329.50 154.88h-2.80 M42.30 135.54h5.50 M329.50 135.54h-5.50 M42.30 116.20h2.80 M329.50 116.20h-2.80 M42.30 96.86h5.50 M329.50 96.86h-5.50 M42.30 77.52h2.80 M329.50 77.52h-2.80 M42.30 58.18h5.50 M329.50 58.18h-5.50 M42.30 38.84h2.80 M329.50 38.84h-2.80 M42.30 19.50h5.50 M329.50 19.50h-5.50 "/>
</g>
<path d="M227.5 26.6H251" stroke="#000" stroke-width="1.1"/>
<path d="M227.1 44.7H252" stroke="#f00" stroke-width="1.1" stroke-dasharray="4.3 3.1"/>
<circle cx="239.8" cy="63" r="1.5" stroke="#090" stroke-width="0.85" fill="none"/>
<path d="M227.3 80.1H252" stroke="#00f" stroke-width="2.3" stroke-dasharray="2.3 4.9"/>
<path d="M239.7 97.8l1.5 1.5l-1.5 1.5l-1.5 -1.5z" fill="#ffa500"/>
<g font-family="Liberation Serif, serif" fill="#000" style="opacity:0.999"><text word-spacing="0.8" transform="translate(258.30 30.70) scale(1.000 1)" text-anchor="start" font-size="18" letter-spacing="-0.85">y = 0</text>
<text word-spacing="0.8" transform="translate(258.30 48.80) scale(1.000 1)" text-anchor="start" font-size="18" letter-spacing="-0.85">y = 1.30</text>
<text word-spacing="0.8" transform="translate(258.30 66.90) scale(1.000 1)" text-anchor="start" font-size="18" letter-spacing="-0.85">y = 2.59</text>
<text word-spacing="0.8" transform="translate(258.30 85.00) scale(1.000 1)" text-anchor="start" font-size="18" letter-spacing="-0.85">y = 3.89</text>
<text word-spacing="0.8" transform="translate(258.30 103.10) scale(1.000 1)" text-anchor="start" font-size="18" letter-spacing="-0.85">y = 5.18</text>
<text transform="translate(38.90 219.30) scale(1.000 1)" text-anchor="end" font-size="18" letter-spacing="-0.55">0</text>
<text transform="translate(38.90 180.62) scale(1.000 1)" text-anchor="end" font-size="18" letter-spacing="-0.55">0.2</text>
<text transform="translate(38.90 141.94) scale(1.000 1)" text-anchor="end" font-size="18" letter-spacing="-0.55">0.4</text>
<text transform="translate(38.90 103.26) scale(1.000 1)" text-anchor="end" font-size="18" letter-spacing="-0.55">0.6</text>
<text transform="translate(38.90 64.58) scale(1.000 1)" text-anchor="end" font-size="18" letter-spacing="-0.55">0.8</text>
<text transform="translate(39.60 25.90) scale(1.000 1)" text-anchor="end" font-size="18" letter-spacing="-0.55">1</text>
<text transform="translate(60.00 227.80) scale(1.000 1)" text-anchor="middle" font-size="18" letter-spacing="-0.55">0.25</text>
<text transform="translate(115.95 227.80) scale(1.000 1)" text-anchor="middle" font-size="18" letter-spacing="-0.55">0.5</text>
<text transform="translate(172.60 227.80) scale(1.000 1)" text-anchor="middle" font-size="18" letter-spacing="-0.55">1</text>
<text transform="translate(227.85 227.80) scale(1.000 1)" text-anchor="middle" font-size="18" letter-spacing="-0.55">2</text>
<text transform="translate(283.80 227.80) scale(1.000 1)" text-anchor="middle" font-size="18" letter-spacing="-0.55">4</text>
<text transform="translate(174.7 242.4)" font-size="17">Q<tspan font-size="12.5" dy="6.4" dx="-0.4">s</tspan><tspan dy="-6.4" dx="0.1" font-size="17.5">r</tspan></text>
<text transform="translate(13.0 106.7) rotate(-90)" text-anchor="middle" font-size="17.5" letter-spacing="-0.25">C(r)</text></g></svg>

</body></html>
